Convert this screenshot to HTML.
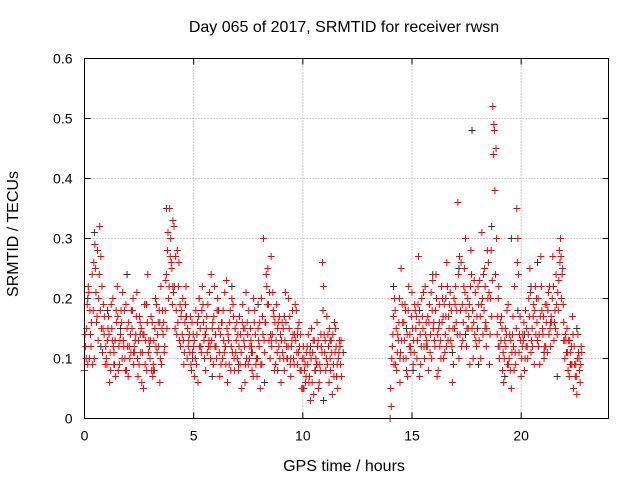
<!DOCTYPE html>
<html><head><meta charset="utf-8">
<style>
html,body{margin:0;padding:0;background:#fff;}
svg{display:block;font-family:"Liberation Sans",sans-serif;}
</style></head>
<body>
<svg id="chart" width="640" height="480" viewBox="0 0 640 480" xmlns="http://www.w3.org/2000/svg">
<text x="344" y="32" font-size="16" text-anchor="middle" fill="#000">Day 065 of 2017, SRMTID for receiver rwsn</text>
<text x="344" y="471" font-size="16" text-anchor="middle">GPS time / hours</text>
<text transform="translate(18,234) rotate(-90)" font-size="16" text-anchor="middle">SRMTID / TECUs</text>
<g id="grid"></g>
<g id="ticks"></g>
<g id="points"></g>
<rect x="84.5" y="58.5" width="524" height="360" fill="none" stroke="#000" stroke-width="1"/>
</svg>
<script>
const xTicks=[0,5,10,15,20];
const yTicks=[0,0.1,0.2,0.3,0.4,0.5,0.6];
const yTickLabels=["0","0.1","0.2","0.3","0.4","0.5","0.6"];
const redA1=[.08,.15,.21,.12,.18,.25,.28,.32,.22,.14,.10,.17,.08,.20,.13,.22,.09,.16,.12,.19,.07,.14,.18,.11,.21,.09,.15,.05,.13,.24,.10,.16,.08,.19,.12,.22,.14,.18,.28,.35,.25,.32,.18,.22,.12,.20,.16,.10,.14,.08,.12,.18,.06,.15,.22,.10,.17,.13,.24,.09,.14,.20,.07,.16,.11,.23,.13,.08,.19,.15,.10,.17,.05,.13,.21,.09,.15,.11,.18,.07,.12,.20,.30,.16,.25,.10,.14,.08,.19,.12,.06,.15,.21,.10,.17,.13,.09,.18,.11,.14,.05,.09,.12,.07,.15,.04,.10,.13,.08,.26,.11,.17,.06,.13,.09,.15,.05,.12];
const redA2=[.00,.12,.20,.08,.16,.25,.10,.18,.07,.14,.21,.11,.17,.27,.09,.15,.22,.12,.19,.10,.16,.24,.08,.13,.20,.11,.26,.15,.18,.09,.22,.36,.14,.19,.25,.12,.17,.28,.10,.21,.15,.23,.31,.18,.12,.26,.20,.52,.38,.14,.10,.17,.06,.12,.19,.08,.14,.22,.35,.11,.07,.13,.18,.10,.25,.15,.09,.20,.12,.27,.14,.19,.11,.22,.16,.13,.24,.18,.30,.25,.10,.15,.07,.12,.05,.09,.14,.06];
const redB1=[.12,.09,.18,.24,.10,.16,.20,.27,.15,.09,.13,.06,.15,.11,.18,.08,.14,.21,.10,.15,.12,.18,.09,.14,.07,.16,.11,.19,.08,.13,.17,.09,.20,.14,.06,.15,.11,.24,.20,.30,.33,.15,.28,.13,.18,.09,.22,.12,.17,.11,.07,.14,.20,.11,.16,.08,.19,.12,.15,.22,.10,.15,.09,.18,.12,.06,.16,.20,.10,.13,.08,.14,.19,.06,.16,.10,.12,.20,.09,.15,.05,.17,.11,.22,.13,.27,.18,.09,.15,.10,.16,.08,.12,.20,.07,.14,.19,.09,.12,.05,.10,.07,.14,.03,.11,.08,.16,.06,.12,.22,.08,.14,.10,.04,.16,.07,.11,.13];
const redB2=[.02,.17,.09,.14,.06,.19,.13,.08,.22,.11,.09,.18,.13,.07,.20,.12,.16,.08,.14,.23,.12,.07,.19,.22,.10,.17,.13,.21,.06,.15,.18,.10,.26,.16,.30,.20,.09,.15,.23,.12,.19,.10,.14,.22,.28,.09,.17,.49,.45,.20,.16,.08,.13,.18,.10,.05,.12,.09,.30,.17,.12,.08,.15,.20,.11,.17,.22,.13,.09,.18,.10,.16,.21,.12,.27,.18,.14,.28,.20,.16,.13,.08,.11,.17,.09,.04,.10,.12];
const redD1=[.14,.19,.10,.16,.26,.21,.13,.18,.11,.17,.09,.14,.19,.12,.07,.17,.13,.10,.18,.08,.16,.11,.20,.13,.10,.17,.06,.14,.19,.11,.13,.07,.15,.11,.18,.09,.16,.23,.31,.27,.19,.22,.14,.26,.17,.13,.19,.15,.11,.16,.13,.09,.17,.12,.19,.14,.11,.21,.13,.17,.12,.18,.14,.10,.21,.15,.09,.12,.17,.11,.14,.09,.16,.12,.10,.18,.13,.07,.14,.10,.16,.09,.13,.24,.19,.14,.21,.16,.11,.17,.13,.10,.16,.12,.09,.18,.14,.11,.16,.08,.12,.06,.09,.11,.06,.13,.09,.05,.14,.18,.13,.09,.15,.11,.07,.12,.10,.09];
const redE1=[.10,.22,.14,.09,.29,.17,.24,.15,.19,.12,.15,.11,.13,.09,.16,.12,.18,.13,.08,.12,.10,.15,.12,.17,.13,.11,.14,.09,.16,.12,.08,.13,.12,.16,.10,.18,.12,.15,.22,.26,.21,.27,.16,.19,.14,.11,.17,.13,.09,.14,.10,.16,.12,.18,.13,.15,.12,.10,.16,.12,.18,.11,.16,.13,.09,.14,.18,.11,.08,.16,.12,.11,.15,.09,.14,.12,.08,.16,.10,.13,.09,.14,.16,.19,.21,.12,.17,.13,.16,.14,.11,.13,.10,.15,.12,.10,.13,.15,.08,.10,.08,.11,.06,.10,.13,.08,.12,.09,.11,.14,.10,.12,.08,.14,.11,.09,.13,.07];
const redD2=[.05,.14,.18,.11,.20,.13,.16,.10,.18,.12,.15,.19,.10,.16,.12,.21,.14,.17,.11,.18,.13,.20,.15,.10,.17,.14,.22,.19,.12,.20,.16,.24,.18,.13,.21,.15,.19,.24,.16,.13,.22,.17,.20,.25,.15,.21,.28,.44,.24,.17,.12,.15,.10,.14,.09,.13,.17,.11,.26,.14,.10,.16,.12,.14,.21,.12,.18,.16,.14,.22,.17,.12,.18,.15,.20,.16,.19,.23,.27,.19,.14,.11,.13,.09,.12,.07,.11,.09];
const redE2=[.10,.09,.15,.13,.11,.16,.19,.14,.12,.17,.13,.15,.19,.14,.17,.10,.13,.16,.21,.15,.18,.14,.12,.16,.19,.12,.17,.13,.15,.19,.14,.27,.12,.22,.18,.15,.22,.18,.14,.17,.13,.19,.24,.16,.20,.14,.23,.48,.30,.22,.13,.11,.15,.09,.14,.11,.08,.15,.24,.13,.14,.10,.12,.17,.13,.19,.14,.20,.17,.15,.12,.19,.14,.17,.22,.15,.21,.26,.24,.13,.11,.13,.09,.14,.07,.10,.08,.11];
const blackC1=[.20,.31,.12,.18,.09,.15,.24,.11,.14,.19,.08,.16,.35,.22,.13,.17,.10,.20,.14,.07,.18,.12,.22,.09,.15,.11,.19,.06,.13,.08,.17,.10,.14,.05,.12,.09,.03,.13,.07,.11];
const blackC2=[.22,.10,.15,.08,.18,.12,.24,.16,.20,.11,.25,.14,.48,.09,.15,.32,.12,.07,.30,.18,.14,.22,.26,.11,.16,.07,.13,.09,.15];

const NS="http://www.w3.org/2000/svg";
const X0=84.5,X1=608.5,Y0=418.5,Y1=58.5;
function xs(t){return X0+(t/24)*(X1-X0);}
function ys(v){return Y0-(v/0.6)*(Y0-Y1);}
const grid=document.getElementById('grid'),ticks=document.getElementById('ticks'),pts=document.getElementById('points');
function mk(tag,attrs,parent){const e=document.createElementNS(NS,tag);for(const k in attrs)e.setAttribute(k,attrs[k]);parent.appendChild(e);return e;}
xTicks.forEach(t=>{const x=xs(t);
 if(t>0){const g=mk('line',{x1:x,x2:x,y1:Y0,y2:Y1,stroke:'#a0a0a0','stroke-dasharray':'1,2'},grid);
 
 }
 const tk=mk('path',{d:`M${x},${Y0}v-6M${x},${Y1}v6`,stroke:'#000'},ticks);
 
 
 const l=mk('text',{x:x,y:Y0+22,'font-size':14,'text-anchor':'middle'},ticks);l.textContent=t;
 
 });
yTicks.forEach((v,i)=>{const y=ys(v);
 if(i>0&&i<yTicks.length-1){const g=mk('line',{x1:X0,x2:X1,y1:y,y2:y,stroke:'#a0a0a0','stroke-dasharray':'1,2'},grid);
 
 }
 const tk=mk('path',{d:`M${X0},${y}h6M${X1},${y}h-6`,stroke:'#000'},ticks);
 
 
 const l=mk('text',{x:X0-12,y:y+5,'font-size':14,'text-anchor':'end'},ticks);l.textContent=yTickLabels[i];
 
 });
function series(vals,start,step,color,name){
 let d='';vals.forEach((v,i)=>{const x=xs(start+i*step),y=ys(v);d+=`M${x-3.5},${y}h7M${x},${y-3.5}v7`;});
 const p=mk('path',{d:d,stroke:color,'stroke-width':1,fill:'none'},pts);
 
 }
series(blackC1,0.15,0.3,'#333','black-points-am');
series(blackC2,14.15,0.3,'#333','black-points-pm');
series(redA1,0,0.1,'#ff0000','red-points-a-am');
series(redA2,14.0,0.1,'#ff0000','red-points-a-pm');
series(redB1,0.05,0.1,'#ff0000','red-points-b-am');
series(redB2,14.05,0.1,'#ff0000','red-points-b-pm');
series(redD1,0.025,0.1,'#ff0000','red-points-d-am');
series(redD2,14.025,0.1,'#ff0000','red-points-d-pm');
series(redE1,0.075,0.1,'#ff0000','red-points-e-am');
series(redE2,14.075,0.1,'#ff0000','red-points-e-pm');
</script>
</body></html>
